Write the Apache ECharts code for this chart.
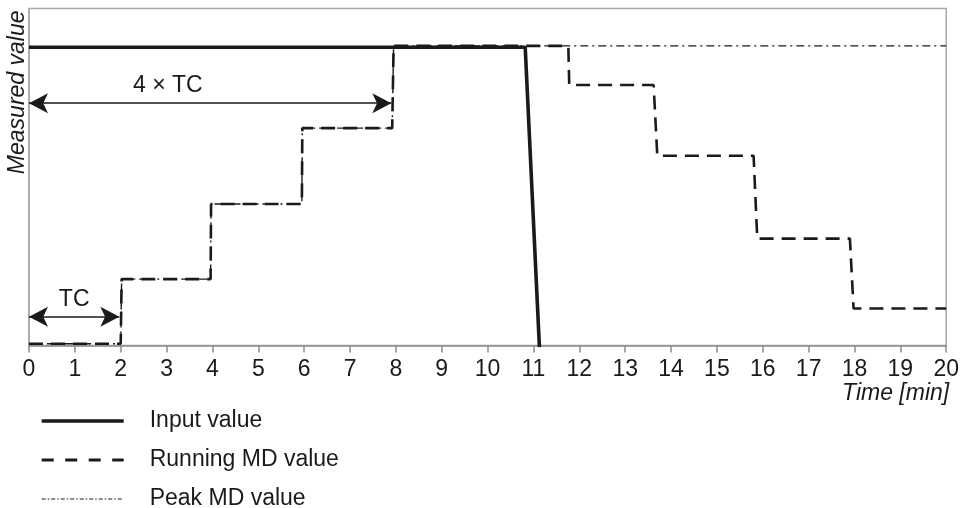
<!DOCTYPE html>
<html>
<head>
<meta charset="utf-8">
<script src="https://cdn.jsdelivr.net/npm/echarts@6/dist/echarts.min.js"></script>
<style>html,body{margin:0;padding:0;background:#fff}#c{width:962px;height:508px}</style>
</head>
<body>
<div id="c"></div>
<script>
// Data (x = time in minutes, y = measured value on a 0-100 relative scale)
var seriesNames = ['Input value', 'Running MD value', 'Peak MD value'];
var xTicks = [0,1,2,3,4,5,6,7,8,9,10,11,12,13,14,15,16,17,18,19,20];
var inputValue = [[0, 88.5], [10.82, 88.5], [11.13, -0.5]];
var runningMD = [[0, 0.5], [2.0, 0.5], [2.02, 19.7], [3.96, 19.7], [3.97, 42.0], [5.95, 42.0], [5.96, 64.5], [7.92, 64.5], [7.95, 88.9],
  [11.76, 88.9], [11.78, 77.3], [13.62, 77.3], [13.7, 56.3], [15.8, 56.3], [15.88, 31.7], [17.9, 31.7], [17.98, 11.0], [20, 11.0]];
var peakMD = [[0, 0.5], [2.0, 0.5], [2.02, 19.7], [3.96, 19.7], [3.97, 42.0], [5.95, 42.0], [5.96, 64.5], [7.92, 64.5], [7.95, 88.9], [20, 88.9]];
var arrow4TC = {label: '4 × TC', from: 0, to: 7.9, y: 71.9};
var arrowTC = {label: 'TC', from: 0, to: 1.97, y: 8.5};

var FONT = 'Liberation Sans, Arial, sans-serif';
var FS = 23;
var INK = '#1a1a1a';

var chart = echarts.init(document.getElementById('c'), null, {renderer: 'canvas'});
chart.setOption({
  animation: false,
  backgroundColor: '#fff',
  textStyle: {fontFamily: FONT},
  grid: {left: 29, right: 11, top: 8.5, bottom: 162.5, show: true, borderColor: '#a8a8a8', borderWidth: 1.5, containLabel: false},
  xAxis: {
    type: 'value', min: xTicks[0], max: xTicks[xTicks.length - 1], interval: 1,
    name: 'Time [min]', nameLocation: 'end', nameGap: 3,
    nameTextStyle: {fontFamily: FONT, fontSize: FS, fontStyle: 'italic', color: INK, align: 'right', verticalAlign: 'top', padding: [37, 0, 0, 0]},
    axisLine: {show: true, lineStyle: {color: '#8c8c8c', width: 1.5}},
    axisTick: {show: true, length: 7, lineStyle: {color: '#8c8c8c', width: 1.5}},
    axisLabel: {fontFamily: FONT, fontSize: FS, color: INK, margin: 13},
    splitLine: {show: false}
  },
  yAxis: {
    type: 'value', min: 0, max: 100,
    name: 'Measured value', nameLocation: 'end', nameGap: -2, nameRotate: 90,
    nameTextStyle: {fontFamily: FONT, fontSize: FS, fontStyle: 'italic', color: INK, align: 'right', verticalAlign: 'bottom'},
    axisLine: {show: true, lineStyle: {color: '#a8a8a8', width: 1.5}},
    axisTick: {show: false}, axisLabel: {show: false}, splitLine: {show: false}
  },
  legend: {
    orient: 'vertical', left: 40, top: 409, height: 140, padding: 0,
    itemWidth: 82, itemHeight: 14, itemGap: 15,
    data: [
      {name: seriesNames[0], lineStyle: {width: 3.4, type: 'solid'}},
      {name: seriesNames[1], lineStyle: {width: 3.2, type: [12, 11.5]}},
      {name: seriesNames[2], lineStyle: {width: 1.2, type: [4, 2, 1.5, 2]}}
    ],
    itemStyle: {opacity: 0, borderWidth: 0},
    textStyle: {fontFamily: FONT, fontSize: FS, color: INK, lineHeight: 24, padding: [0, 0, 0, 21]}
  },
  series: [
    {
      name: seriesNames[2], type: 'line', data: peakMD, symbol: 'none', z: 2,
      itemStyle: {color: INK},
      lineStyle: {color: INK, width: 1.4, type: [8, 4, 2, 4]},
      markLine: {
        silent: true, symbol: ['arrow', 'arrow'], symbolSize: [15, 19],
        lineStyle: {color: INK, width: 1.5, type: 'solid'},
        label: {show: true, fontFamily: FONT, fontSize: FS, color: INK, formatter: function (p) { return p.name; }},
        data: [
          [{name: arrow4TC.label, coord: [arrow4TC.from, arrow4TC.y], label: {position: 'insideStartTop', distance: [104, 6]}}, {coord: [arrow4TC.to, arrow4TC.y]}],
          [{name: arrowTC.label, coord: [arrowTC.from, arrowTC.y], label: {position: 'middle', distance: 6}}, {coord: [arrowTC.to, arrowTC.y]}]
        ]
      }
    },
    {
      name: seriesNames[1], type: 'line', data: runningMD, symbol: 'none', z: 3,
      itemStyle: {color: INK},
      lineStyle: {color: INK, width: 2.6, type: [14, 8]}
    },
    {
      name: seriesNames[0], type: 'line', data: inputValue, symbol: 'none', z: 4, clip: false,
      itemStyle: {color: INK},
      lineStyle: {color: INK, width: 3.6, type: 'solid'}
    }
  ]
});
</script>
</body>
</html>
